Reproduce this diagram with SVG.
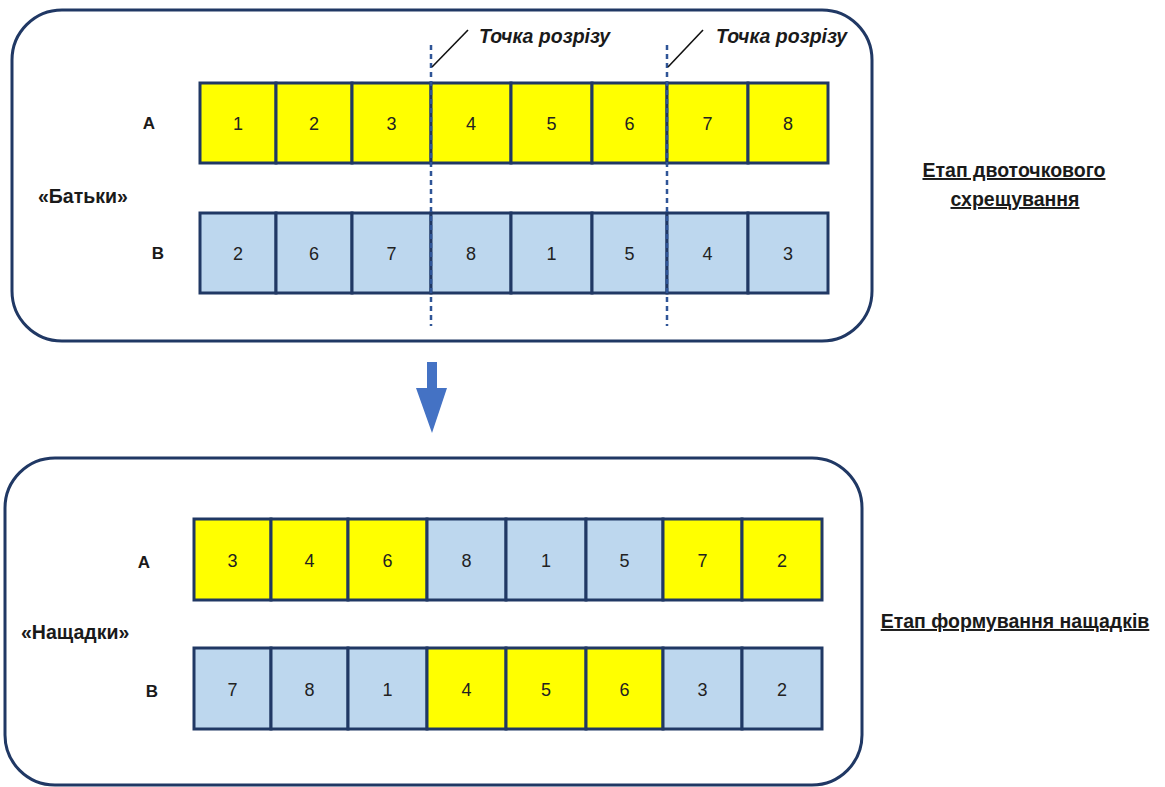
<svg xmlns="http://www.w3.org/2000/svg" width="1165" height="787" viewBox="0 0 1165 787">
<style>
.box{fill:#fff;stroke:#203864;stroke-width:3}
.y{fill:#ffff00;stroke:#203864;stroke-width:3}
.b{fill:#bdd7ee;stroke:#203864;stroke-width:3}
.n{font-family:"Liberation Sans",Arial,sans-serif;font-size:18px;fill:#222;text-anchor:middle}
.lbl{font-family:"Liberation Sans",Arial,sans-serif;font-size:17px;font-weight:bold;fill:#1a1a1a;text-anchor:middle}
.grp{font-family:"Liberation Sans",Arial,sans-serif;font-size:19.5px;font-weight:bold;fill:#1a1a1a}
.cut{font-family:"Liberation Sans",Arial,sans-serif;font-size:19.5px;font-weight:bold;font-style:italic;fill:#1a1a1a}
.stage{font-family:"Liberation Sans",Arial,sans-serif;font-size:19.5px;font-weight:bold;fill:#1a1a1a;text-anchor:middle;text-decoration:underline}
.dash{stroke:#2f5597;stroke-width:2.5;stroke-dasharray:5 4;fill:none}
.slash{stroke:#111;stroke-width:1.6;fill:none}
</style>
<g id="parents-box">
<rect class="box" x="12" y="10" width="860" height="331" rx="50" ry="50"/>
<text class="grp" x="38" y="203">«Батьки»</text>
</g>
<g id="parent-A">
<text class="lbl" x="149" y="129">А</text>
<rect class="y" x="200" y="83" width="76" height="80"/><text class="n" x="238" y="129.5">1</text>
<rect class="y" x="276" y="83" width="76" height="80"/><text class="n" x="314" y="129.5">2</text>
<rect class="y" x="352" y="83" width="79" height="80"/><text class="n" x="391.5" y="129.5">3</text>
<rect class="y" x="431" y="83" width="80" height="80"/><text class="n" x="471" y="129.5">4</text>
<rect class="y" x="511" y="83" width="81" height="80"/><text class="n" x="551.5" y="129.5">5</text>
<rect class="y" x="592" y="83" width="75" height="80"/><text class="n" x="629.5" y="129.5">6</text>
<rect class="y" x="667" y="83" width="81" height="80"/><text class="n" x="707.5" y="129.5">7</text>
<rect class="y" x="748" y="83" width="80" height="80"/><text class="n" x="788" y="129.5">8</text>
</g>
<g id="parent-B">
<text class="lbl" x="158" y="259">В</text>
<rect class="b" x="200" y="213" width="76" height="80"/><text class="n" x="238" y="259.5">2</text>
<rect class="b" x="276" y="213" width="76" height="80"/><text class="n" x="314" y="259.5">6</text>
<rect class="b" x="352" y="213" width="79" height="80"/><text class="n" x="391.5" y="259.5">7</text>
<rect class="b" x="431" y="213" width="80" height="80"/><text class="n" x="471" y="259.5">8</text>
<rect class="b" x="511" y="213" width="81" height="80"/><text class="n" x="551.5" y="259.5">1</text>
<rect class="b" x="592" y="213" width="75" height="80"/><text class="n" x="629.5" y="259.5">5</text>
<rect class="b" x="667" y="213" width="81" height="80"/><text class="n" x="707.5" y="259.5">4</text>
<rect class="b" x="748" y="213" width="80" height="80"/><text class="n" x="788" y="259.5">3</text>
</g>
<g id="cut-points">
<line class="dash" x1="431" y1="45" x2="431" y2="326"/>
<line class="dash" x1="667" y1="45" x2="667" y2="326"/>
<line class="slash" x1="432" y1="67" x2="468" y2="30"/>
<line class="slash" x1="668" y1="67" x2="703" y2="30"/>
<text class="cut" x="479" y="43">Точка розрізу</text>
<text class="cut" x="716" y="43">Точка розрізу</text>
</g>
<g id="stage-crossover">
<text class="stage" x="1014" y="177">Етап двоточкового</text>
<text class="stage" x="1015" y="206">схрещування</text>
</g>
<g id="connectors">
<path d="M427,362 L437,362 L437,388 L447,388 L432,433 L416,388 L427,388 Z" fill="#4472c4"/>
</g>
<g id="offspring-box">
<rect class="box" x="5" y="458" width="857" height="327" rx="50" ry="50"/>
<text class="grp" x="21" y="639">«Нащадки»</text>
</g>
<g id="child-A">
<text class="lbl" x="144" y="568">А</text>
<rect class="y" x="194" y="519" width="77" height="81"/><text class="n" x="232.5" y="566.5">3</text>
<rect class="y" x="271" y="519" width="77" height="81"/><text class="n" x="309.5" y="566.5">4</text>
<rect class="y" x="348" y="519" width="79" height="81"/><text class="n" x="387.5" y="566.5">6</text>
<rect class="b" x="427" y="519" width="79" height="81"/><text class="n" x="466.5" y="566.5">8</text>
<rect class="b" x="506" y="519" width="80" height="81"/><text class="n" x="546" y="566.5">1</text>
<rect class="b" x="586" y="519" width="77" height="81"/><text class="n" x="624.5" y="566.5">5</text>
<rect class="y" x="663" y="519" width="79" height="81"/><text class="n" x="702.5" y="566.5">7</text>
<rect class="y" x="742" y="519" width="80" height="81"/><text class="n" x="782" y="566.5">2</text>
</g>
<g id="child-B">
<text class="lbl" x="152" y="697">В</text>
<rect class="b" x="194" y="648" width="77" height="81"/><text class="n" x="232.5" y="695.5">7</text>
<rect class="b" x="271" y="648" width="77" height="81"/><text class="n" x="309.5" y="695.5">8</text>
<rect class="b" x="348" y="648" width="79" height="81"/><text class="n" x="387.5" y="695.5">1</text>
<rect class="y" x="427" y="648" width="79" height="81"/><text class="n" x="466.5" y="695.5">4</text>
<rect class="y" x="506" y="648" width="80" height="81"/><text class="n" x="546" y="695.5">5</text>
<rect class="y" x="586" y="648" width="77" height="81"/><text class="n" x="624.5" y="695.5">6</text>
<rect class="b" x="663" y="648" width="79" height="81"/><text class="n" x="702.5" y="695.5">3</text>
<rect class="b" x="742" y="648" width="80" height="81"/><text class="n" x="782" y="695.5">2</text>
</g>
<g id="stage-offspring">
<text class="stage" x="1015" y="628">Етап формування нащадків</text>
</g>
</svg>
